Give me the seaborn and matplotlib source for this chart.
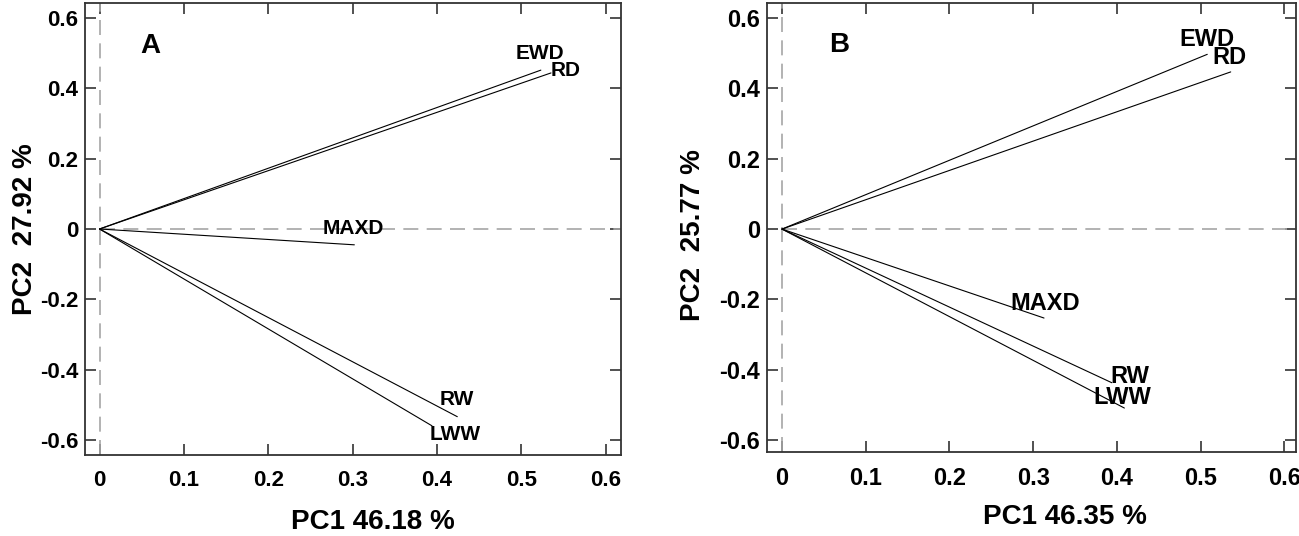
import matplotlib
matplotlib.use("Agg")
import matplotlib.pyplot as plt
import seaborn as sns
import pandas as pd

sns.set_theme(style="white")
plt.rcParams['font.family'] = ['Liberation Sans', 'DejaVu Sans']
plt.rcParams['text.color'] = 'black'
plt.rcParams['axes.labelcolor'] = 'black'
plt.rcParams['xtick.color'] = 'black'
plt.rcParams['ytick.color'] = 'black'

variables = ["EWD", "RD", "MAXD", "RW", "LWW"]

# Panel A loadings
a_pc1 = [0.523, 0.535, 0.302, 0.424, 0.394]
a_pc2 = [0.452, 0.444, -0.045, -0.534, -0.560]
a_lab_x = [0.522, 0.552, 0.301, 0.423, 0.422]
a_lab_y = [0.500, 0.452, 0.000, -0.486, -0.585]

# Panel B loadings
b_pc1 = [0.508, 0.536, 0.313, 0.394, 0.409]
b_pc2 = [0.497, 0.447, -0.253, -0.437, -0.509]
b_lab_x = [0.508, 0.535, 0.314, 0.415, 0.407]
b_lab_y = [0.540, 0.487, -0.213, -0.420, -0.478]

ticks = [0, 0.1, 0.2, 0.3, 0.4, 0.5, 0.6]
tick_labels_x = ["0", "0.1", "0.2", "0.3", "0.4", "0.5", "0.6"]
yticks = [-0.6, -0.4, -0.2, 0, 0.2, 0.4, 0.6]
tick_labels_y = ["-0.6", "-0.4", "-0.2", "0", "0.2", "0.4", "0.6"]

panels = [
    dict(letter="A", pc1=a_pc1, pc2=a_pc2, lx=a_lab_x, ly=a_lab_y,
         xlabel="PC1 46.18 %", ylabel="PC2  27.92 %",
         rect=[85/1299, 1-455/536, 536/1299, 452/536],
         xlim=(-0.0172, 0.618), ylim=(-0.643, 0.643),
         xlab_pos=(0.537, -0.148), ylab_pos=(-0.112, 0.5),
         tick_fs=16, lab_fs=15, letter_pos=(0.060, 0.520)),
    dict(letter="B", pc1=b_pc1, pc2=b_pc2, lx=b_lab_x, ly=b_lab_y,
         xlabel="PC1 46.35 %", ylabel="PC2  25.77 %",
         rect=[767/1299, 1-452/536, 529/1299, 449/536],
         xlim=(-0.0179, 0.614), ylim=(-0.634, 0.643),
         xlab_pos=(0.563, -0.145), ylab_pos=(-0.140, 0.483),
         tick_fs=17, lab_fs=17, letter_pos=(0.068, 0.523)),
]

fig = plt.figure(figsize=(12.99, 5.36), dpi=100)

for p in panels:
    ax = fig.add_axes(p["rect"])
    rows = []
    for v, x, y in zip(variables, p["pc1"], p["pc2"]):
        rows.append(dict(var=v, x=0.0, y=0.0))
        rows.append(dict(var=v, x=x, y=y))
    df = pd.DataFrame(rows)
    x0, x1 = p["xlim"]
    frac0 = (0 - x0) / (x1 - x0)
    ax.axvline(0, color="#a6a6a6", lw=1.2, dashes=(9, 5), zorder=1)
    ax.axhline(0, xmin=frac0, xmax=1, color="#a6a6a6", lw=1.2, dashes=(9, 5), zorder=1)
    sns.lineplot(data=df, x="x", y="y", units="var", estimator=None, sort=False,
                 color="black", lw=0.8, ax=ax, legend=False, zorder=3)
    for v, tx, ty in zip(variables, p["lx"], p["ly"]):
        ax.text(tx, ty, v, ha="center", va="center", fontsize=p["lab_fs"],
                fontweight="bold", color="black", zorder=4)
    ax.text(p["letter_pos"][0], p["letter_pos"][1], p["letter"], ha="center", va="center",
            fontsize=20, fontweight="bold", color="black")
    ax.set_xlim(*p["xlim"])
    ax.set_ylim(*p["ylim"])
    ax.set_xticks(ticks)
    ax.set_xticklabels(tick_labels_x, fontsize=p["tick_fs"], fontweight="bold")
    ax.set_yticks(yticks)
    ax.set_yticklabels(tick_labels_y, fontsize=p["tick_fs"], fontweight="bold")
    ax.tick_params(direction="in", length=8, width=1.2, color="#333333",
                   top=True, right=True, bottom=True, left=True)
    ax.tick_params(axis="x", pad=11)
    ax.tick_params(axis="y", pad=5)
    for s in ax.spines.values():
        s.set_visible(True)
        s.set_color("#333333")
        s.set_linewidth(1.3)
    ax.set_xlabel(p["xlabel"], fontsize=20, fontweight="bold")
    ax.set_ylabel(p["ylabel"], fontsize=20, fontweight="bold")
    ax.xaxis.set_label_coords(*p["xlab_pos"])
    ax.yaxis.set_label_coords(*p["ylab_pos"])
    ax.xaxis.label.set_va("center")
    ax.yaxis.label.set_va("center")
    ax.set_facecolor("white")

fig.savefig("out.png", dpi=100, facecolor="white")
